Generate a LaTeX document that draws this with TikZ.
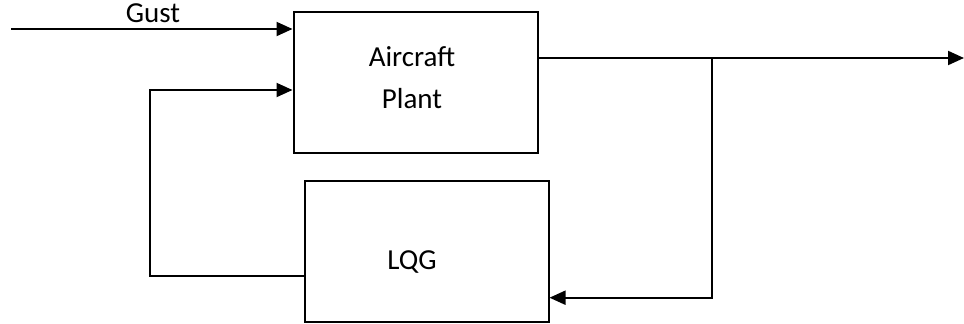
\documentclass[tikz,border=0pt]{standalone}
\usepackage{fontspec}
\setmainfont{Carlito}
\usetikzlibrary{arrows.meta}
\begin{document}
\begin{tikzpicture}[x=1pt,y=-1pt,
  blockbox/.style={draw=black,line width=2pt,rectangle,inner sep=0pt},
  conn/.style={line width=2pt,-{Triangle[length=16pt,width=14pt]}},
  lbl/.style={anchor=base,inner sep=0pt,font=\fontsize{29}{35}\selectfont}]
\useasboundingbox (0,0) rectangle (964,324);
% blocks
\node[blockbox,minimum width=244.5pt,minimum height=141.5pt] (plant) at (415.75,82.25) {};
\node[blockbox,minimum width=243.5pt,minimum height=141pt] (lqg) at (426.75,251.5) {};
% labels
\node[lbl] (aircraft) at (412,66.7) {Aircraft};
\node[lbl] (plantlbl) at (412,108.3) {Plant};
\node[lbl] (lqglbl) at (412,269.3) {LQG};
\node[lbl] (gust) at (153,22.7) {Gust};
% coordinates
\coordinate (gstart) at (11,29);
\coordinate (fbt) at (149.5,90);
\coordinate (fbl) at (149.5,275.7);
\coordinate (outstart) at (538,58);
\coordinate (outend) at (964,58);
\coordinate (junc) at (711.5,58);
\coordinate (jb) at (711.5,297.7);
% connectors
\draw[conn] (gstart) -- (plant.west |- gstart);
\draw[conn] (lqg.west |- fbl) -- (fbl) -- (fbt) -- (plant.west |- fbt);
\draw[conn] (plant.east |- outstart) -- (outend);
\draw[conn] (junc) -- (jb) -- (lqg.east |- jb);
\end{tikzpicture}
\end{document}
